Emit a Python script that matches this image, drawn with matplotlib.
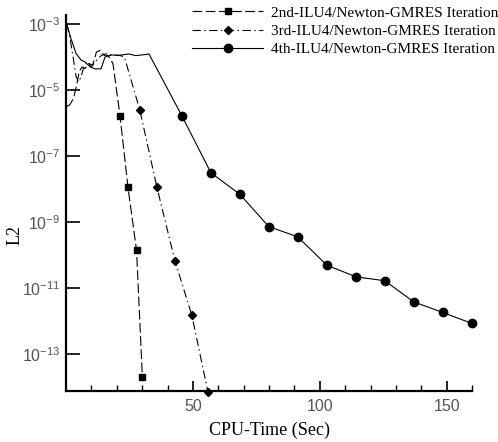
import numpy as np
import matplotlib
matplotlib.use("Agg")
import matplotlib.pyplot as plt
from matplotlib.ticker import FixedLocator, FuncFormatter

plt.rcParams['lines.scale_dashes'] = False
plt.rcParams['mathtext.fontset'] = 'custom'
plt.rcParams['mathtext.rm'] = 'Liberation Sans'
plt.rcParams['mathtext.default'] = 'regular'

# CPU time (sec) and log10(L2)
t_2nd = [0.3, 1.5, 3.0, 4.2, 5.2, 6.3, 7.5, 9.0, 10.5, 12.0, 13.5, 15.0, 16.5, 18.5,
         21.3, 24.4, 27.8, 30.1]
e_2nd = [-5.5, -5.45, -5.25, -4.85, -4.45, -4.3, -4.35, -4.2, -4.25, -3.85, -3.8, -3.95, -3.95, -4.2,
         -5.79, -7.94, -9.86, -13.70]
mk_2nd = [14, 15, 16, 17]

t_3rd = [0.3, 1.5, 2.8, 4.0, 5.0, 6.0, 7.0, 8.5, 10.0, 12.0, 14.0, 16.0, 18.5, 21.0, 23.0,
         29.1, 35.8, 42.9, 49.6, 55.9]
e_3rd = [-3.0, -3.4, -4.0, -4.6, -4.75, -4.6, -4.3, -4.15, -4.3, -4.1, -3.95, -3.9, -3.95, -3.95, -4.0,
         -5.61, -7.94, -10.17, -11.83, -14.14]
mk_3rd = [15, 16, 17, 18, 19]

t_4th = [0.3, 2.0, 4.0, 6.0, 7.5, 9.5, 11.4, 13.8, 15.4, 18.1, 21.0, 24.8, 27.5, 29.9, 32.7,
         45.7, 57.1, 68.5, 79.9, 91.3, 102.8, 114.2, 125.6, 137.0, 148.4, 159.8]
e_4th = [-3.0, -3.45, -3.9, -4.1, -4.15, -4.3, -4.36, -4.36, -4.0, -3.94, -3.95, -3.91, -3.96, -3.94, -3.91,
         -5.79, -7.51, -8.16, -9.14, -9.45, -10.31, -10.66, -10.78, -11.42, -11.74, -12.07]
mk_4th = list(range(15, 26))

labels = ['2nd-ILU4/Newton-GMRES Iteration',
          '3rd-ILU4/Newton-GMRES Iteration',
          '4th-ILU4/Newton-GMRES Iteration']

yticks_exp = [-3, -5, -7, -9, -11, -13]

fig = plt.figure(figsize=(4.98, 4.42), dpi=100)
ax = fig.add_axes([0.1325, 0.1154, 0.8155, 0.8506])

ax.plot(t_2nd, 10 ** np.array(e_2nd), color='black', lw=0.8, dashes=(7, 2.5),
        marker='s', ms=5, markevery=mk_2nd, label=labels[0], clip_on=False)
ax.plot(t_3rd, 10 ** np.array(e_3rd), color='black', lw=0.8, dashes=(6, 2.5, 1, 2.5),
        marker='D', ms=4.5, markevery=mk_3rd, label=labels[1], clip_on=False)
ax.plot(t_4th, 10 ** np.array(e_4th), color='black', lw=0.8, linestyle='-',
        marker='o', ms=6, markevery=mk_4th, label=labels[2], clip_on=False)

ax.set_yscale('log')
ax.set_xlim(0, 160)
ax.set_ylim(10 ** -14.12, 10 ** -2.73)

ax.spines['top'].set_visible(False)
ax.spines['right'].set_visible(False)
ax.spines['left'].set_linewidth(1.6)
ax.spines['bottom'].set_linewidth(1.6)

ax.xaxis.set_major_locator(FixedLocator([50, 100, 150]))
ax.xaxis.set_minor_locator(FixedLocator([10, 20, 30, 40, 60, 70, 80, 90, 110, 120, 130, 140, 160]))
ax.yaxis.set_major_locator(FixedLocator([10.0 ** e for e in yticks_exp]))
ax.yaxis.set_minor_locator(FixedLocator([]))
ax.yaxis.set_major_formatter(FuncFormatter(
    lambda v, p: r'$10^{%d}$' % round(np.log10(v))))

ax.tick_params(axis='x', which='major', direction='in', length=7, width=1.2,
               labelsize=11.5, pad=6)
ax.tick_params(axis='x', which='minor', direction='in', length=4, width=1.0)
ax.tick_params(axis='y', which='major', direction='in', length=10, width=1.2,
               labelsize=11.5, pad=4)
for lab in ax.get_xticklabels() + ax.get_yticklabels():
    lab.set_family('Liberation Sans')
    lab.set_color('#555555')

ax.set_xlabel('CPU-Time (Sec)', family='Liberation Serif', fontsize=13, labelpad=5)
ax.set_ylabel('L2', family='Liberation Serif', fontsize=13)
ax.yaxis.set_label_coords(-0.105, 0.415)

leg = ax.legend(loc='upper right', bbox_to_anchor=(1.08, 1.04), frameon=False,
                prop={'family': 'Liberation Serif', 'size': 11},
                handlelength=4.7, handletextpad=0.5, labelspacing=0.3, borderaxespad=0)

fig.savefig('out.png', dpi=100)
